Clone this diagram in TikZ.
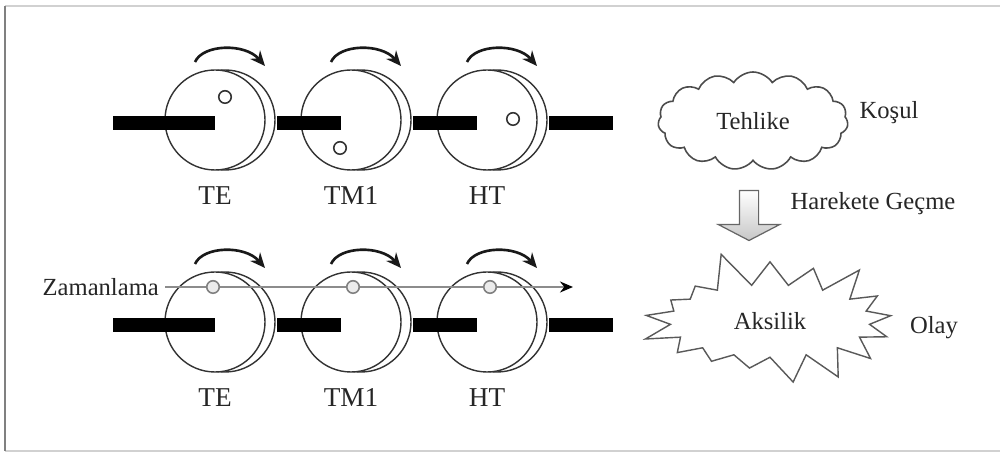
\documentclass[tikz,border=0pt]{standalone}
\usepackage{fontspec}
\setmainfont{Liberation Serif}
\usetikzlibrary{arrows.meta, positioning, shapes.symbols, shapes.arrows, calc}

\begin{document}
\begin{tikzpicture}[
      x=0.2mm, y=-0.2mm,
      disc/.style={circle, draw=black!80, line width=0.8pt, fill=white, minimum size=2cm, inner sep=0pt},
      hole/.style={circle, draw=black!80, line width=0.9pt, fill=white, minimum size=0.25cm, inner sep=0pt},
      timehole/.style={hole, draw=black!50, fill=black!8},
      turn/.style={-{Stealth[length=3mm, width=2.6mm]}, line width=1.5pt, black!90},
      lbl/.style={font=\fontsize{14}{16}\selectfont, text=black!85},
      wheel_lbl/.style={font=\fontsize{15.5}{18}\selectfont, text=black!85}
    ]

      \useasboundingbox (0,0) rectangle (1000,453);

      % page frame
      \draw[black!18, line width=1.2pt] (5,6) -- (1000,6);
      \draw[black!18, line width=1.2pt] (5,451) -- (1000,451);
      \draw[black!50, line width=1.2pt] (5,6) -- (5,451);

      % two rows of wheels: rear rim, front disc, name underneath
      \foreach \y/\r in {120/a, 322/b} {
        \foreach \x/\n/\t in {215/1/TE, 351/2/TM1, 487/3/HT} {
          \node[disc] (\r\n-rim) at (\x+10,\y) {};
          \node[disc] (\r\n) at (\x,\y) {};
          \node[wheel_lbl, below=0.2cm of \r\n] (\r\n-lbl) {\t};
          % turning direction
          \draw[turn] ($(\r\n)+(-20,-58)$) .. controls ($(\r\n)+(-12,-76)$) and ($(\r\n)+(30,-77)$) .. ($(\r\n)+(50,-54)$);
        }
        % shafts between the wheels
        \fill[black] ($(\r1)+(-102,-4)$) rectangle ($(\r1)+(0,10)$);
        \fill[black] ($(\r1)+(62,-4)$) rectangle ($(\r2)+(-10,10)$);
        \fill[black] ($(\r2)+(62,-4)$) rectangle ($(\r3)+(-10,10)$);
        \fill[black] ($(\r3)+(62,-4)$) rectangle ($(\r3)+(126,10)$);
      }

      % holes, out of line
      \node[hole] (a1-hole) at ($(a1)+(10,-23)$) {};
      \node[hole] (a2-hole) at ($(a2)+(-11,28)$) {};
      \node[hole] (a3-hole) at ($(a3)+(26,-1)$) {};

      % timing line through the lined-up holes
      \node[lbl, anchor=east] (timing) at (165,287) {Zamanlama};
      \coordinate (timing_end) at ($(b3)+(86,-35)$);
      \draw[black!45, line width=1.1pt, -{Stealth[length=2.6mm, width=2.2mm, black]}] (timing.east) -- (timing_end);
      \foreach \n/\dx in {1/-2, 2/2, 3/3} {
        \node[timehole] (b\n-hole) at ($(b\n)+(\dx,-35)$) {};
      }

      % hazard cloud
      \node[cloud, draw=black!70, line width=0.9pt, cloud puffs=15, cloud puff arc=115,
            cloud ignores aspect, minimum width=3.8cm, minimum height=1.96cm, lbl] (hazard) at (753,121) {Tehlike};
      \node[lbl] (condition) at (889,113) {Koşul};

      % trigger arrow down to the mishap
      \node[single arrow, shape border rotate=270, draw=black!60, line width=0.7pt,
            top color=white, bottom color=black!22, inner sep=1.8mm, minimum height=1cm,
            single arrow head extend=0.42cm, single arrow tip angle=125,
            single arrow head indent=0pt] (trigger) at (749,213) {};
      \node[lbl] (trigger_lbl) at (873,204) {Harekete Geçme};

      % mishap burst
      \node[starburst, draw=black!65, line width=0.8pt, fill=white, starburst points=17,
            starburst point height=0.75cm, random starburst=5,
            minimum width=5.5cm, minimum height=2.95cm, lbl] (mishap) at (770,321) {Aksilik};
      \node[lbl] (event) at (934,328) {Olay};

    \end{tikzpicture}
\end{document}
